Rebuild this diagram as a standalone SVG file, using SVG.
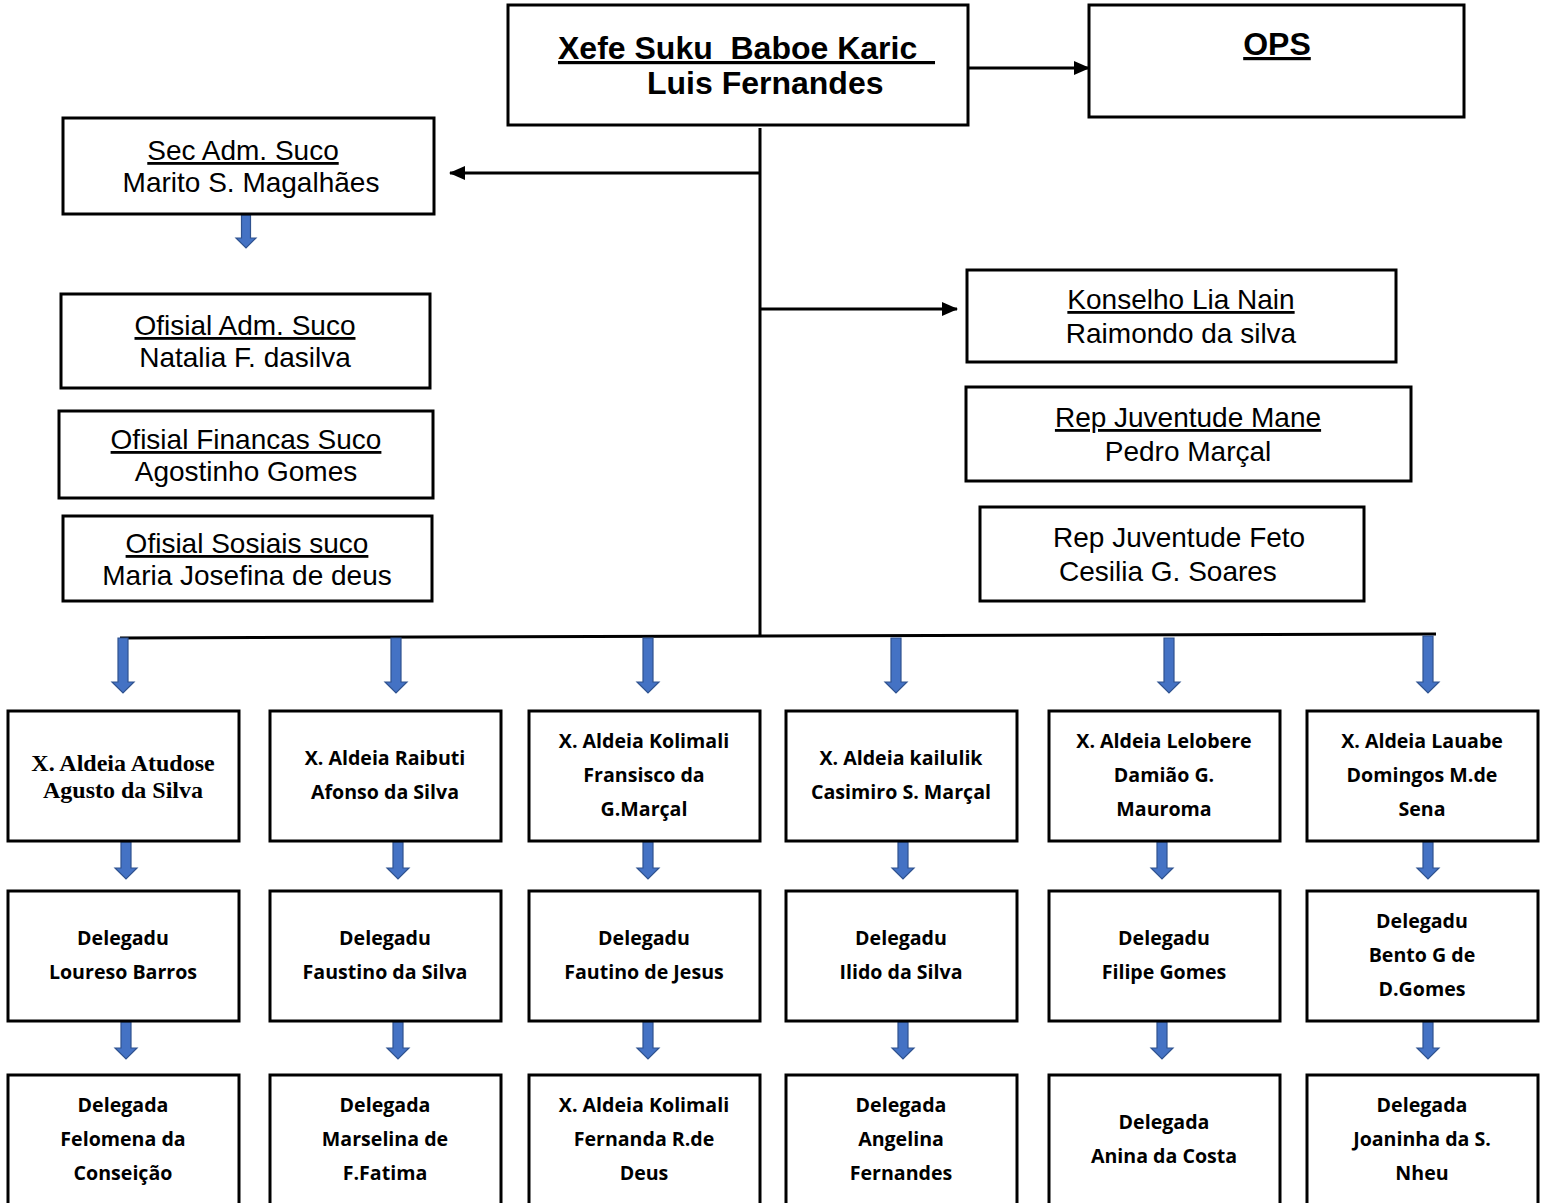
<svg xmlns="http://www.w3.org/2000/svg" width="1546" height="1203" viewBox="0 0 1546 1203">
<defs>
<marker id="ah" markerWidth="16" markerHeight="14" refX="15" refY="7" orient="auto" markerUnits="userSpaceOnUse">
<path d="M0,0 L16,7 L0,14 Z" fill="#000"/>
</marker>
<style>
.box{fill:#fff;stroke:#000;stroke-width:3}
.line{stroke:#000;stroke-width:3;fill:none}
.blue{fill:#4472C4;stroke:#2F528F;stroke-width:1.2}
.hd{font-family:"Liberation Sans",Arial,sans-serif;font-weight:bold;font-size:32px;fill:#000}
.md{font-family:"Liberation Sans",Arial,sans-serif;font-size:28px;fill:#000}
.c{text-anchor:middle}
.u{text-decoration:underline}
.bt{font-family:"Open Sans",Lato,sans-serif;font-weight:bold;font-size:19.6px;fill:#000;text-anchor:middle}
.tm{font-family:"Liberation Serif","Times New Roman",serif;font-weight:bold;font-size:24px;fill:#000;text-anchor:middle}
</style>
</defs>
<rect width="1546" height="1203" fill="#fff"/>

<g id="connectors">
<line class="line" x1="968" y1="68" x2="1089" y2="68" marker-end="url(#ah)"/>
<line class="line" x1="760" y1="128" x2="760" y2="637"/>
<line class="line" x1="760" y1="173" x2="450" y2="173" marker-end="url(#ah)"/>
<line class="line" x1="760" y1="309" x2="957" y2="309" marker-end="url(#ah)"/>
<line class="line" x1="120" y1="638" x2="1436" y2="634"/>
<path class="blue" d="M241.5,215 L250.5,215 L250.5,238 L256,238 L246,248 L236,238 L241.5,238 Z"/>
<path class="blue" d="M118,638 L128,638 L128,682 L134,682 L123,693 L112,682 L118,682 Z"/>
<path class="blue" d="M391,638 L401,638 L401,682 L407,682 L396,693 L385,682 L391,682 Z"/>
<path class="blue" d="M643,638 L653,638 L653,682 L659,682 L648,693 L637,682 L643,682 Z"/>
<path class="blue" d="M891,638 L901,638 L901,682 L907,682 L896,693 L885,682 L891,682 Z"/>
<path class="blue" d="M1164,638 L1174,638 L1174,682 L1180,682 L1169,693 L1158,682 L1164,682 Z"/>
<path class="blue" d="M1423,636 L1433,636 L1433,682 L1439,682 L1428,693 L1417,682 L1423,682 Z"/>
<path class="blue" d="M121,842 L131,842 L131,868 L137,868 L126,879 L115,868 L121,868 Z"/>
<path class="blue" d="M393,842 L403,842 L403,868 L409,868 L398,879 L387,868 L393,868 Z"/>
<path class="blue" d="M643,842 L653,842 L653,868 L659,868 L648,879 L637,868 L643,868 Z"/>
<path class="blue" d="M898,842 L908,842 L908,868 L914,868 L903,879 L892,868 L898,868 Z"/>
<path class="blue" d="M1157,842 L1167,842 L1167,868 L1173,868 L1162,879 L1151,868 L1157,868 Z"/>
<path class="blue" d="M1423,842 L1433,842 L1433,868 L1439,868 L1428,879 L1417,868 L1423,868 Z"/>
<path class="blue" d="M121,1022 L131,1022 L131,1048 L137,1048 L126,1059 L115,1048 L121,1048 Z"/>
<path class="blue" d="M393,1022 L403,1022 L403,1048 L409,1048 L398,1059 L387,1048 L393,1048 Z"/>
<path class="blue" d="M643,1022 L653,1022 L653,1048 L659,1048 L648,1059 L637,1048 L643,1048 Z"/>
<path class="blue" d="M898,1022 L908,1022 L908,1048 L914,1048 L903,1059 L892,1048 L898,1048 Z"/>
<path class="blue" d="M1157,1022 L1167,1022 L1167,1048 L1173,1048 L1162,1059 L1151,1048 L1157,1048 Z"/>
<path class="blue" d="M1423,1022 L1433,1022 L1433,1048 L1439,1048 L1428,1059 L1417,1048 L1423,1048 Z"/>
</g>

<g id="xefe">
<rect class="box" x="508" y="5" width="460" height="120"/>
<text class="hd u" x="558" y="59" xml:space="preserve">Xefe Suku  Baboe Karic  </text>
<text class="hd" x="647" y="94">Luis Fernandes</text>
</g>
<g id="ops">
<rect class="box" x="1089" y="5" width="375" height="112"/>
<text class="hd u c" x="1277" y="55">OPS</text>
</g>
<g id="sec">
<rect class="box" x="63" y="118" width="371" height="96"/>
<text class="md u c" x="243" y="160">Sec Adm. Suco</text>
<text class="md c" x="251" y="192">Marito S. Magalhães</text>
</g>
<g id="ofisial-adm">
<rect class="box" x="61" y="294" width="369" height="94"/>
<text class="md u c" x="245" y="335">Ofisial Adm. Suco</text>
<text class="md c" x="245" y="367">Natalia F. dasilva</text>
</g>
<g id="ofisial-fin">
<rect class="box" x="59" y="411" width="374" height="87"/>
<text class="md u c" x="246" y="449">Ofisial Financas Suco</text>
<text class="md c" x="246" y="481">Agostinho Gomes</text>
</g>
<g id="ofisial-sos">
<rect class="box" x="63" y="516" width="369" height="85"/>
<text class="md u c" x="247" y="553">Ofisial Sosiais suco</text>
<text class="md c" x="247" y="585">Maria Josefina de deus</text>
</g>
<g id="konselho">
<rect class="box" x="967" y="270" width="429" height="92"/>
<text class="md u c" x="1181" y="309">Konselho Lia Nain</text>
<text class="md c" x="1181" y="343">Raimondo da silva</text>
</g>
<g id="rep-mane">
<rect class="box" x="966" y="387" width="445" height="94"/>
<text class="md u c" x="1188" y="427">Rep Juventude Mane</text>
<text class="md c" x="1188" y="461">Pedro Marçal</text>
</g>
<g id="rep-feto">
<rect class="box" x="980" y="507" width="384" height="94"/>
<text class="md" x="1053" y="547">Rep Juventude Feto</text>
<text class="md" x="1059" y="581">Cesilia G. Soares</text>
</g>

<g id="aldeia-atudose">
<rect class="box" x="8" y="711" width="231" height="130"/>
<text class="tm" x="123" y="771">X. Aldeia Atudose</text>
<text class="tm" x="123" y="798">Agusto da Silva</text>
</g>
<g id="aldeia-raibuti">
<rect class="box" x="270" y="711" width="231" height="130"/>
<text class="bt" x="385" y="765">X. Aldeia Raibuti</text>
<text class="bt" x="385" y="799">Afonso da Silva</text>
</g>
<g id="aldeia-kolimali">
<rect class="box" x="529" y="711" width="231" height="130"/>
<text class="bt" x="644" y="748">X. Aldeia Kolimali</text>
<text class="bt" x="644" y="782">Fransisco da</text>
<text class="bt" x="644" y="816">G.Marçal</text>
</g>
<g id="aldeia-kailulik">
<rect class="box" x="786" y="711" width="231" height="130"/>
<text class="bt" x="901" y="765">X. Aldeia kailulik</text>
<text class="bt" x="901" y="799">Casimiro S. Marçal</text>
</g>
<g id="aldeia-lelobere">
<rect class="box" x="1049" y="711" width="231" height="130"/>
<text class="bt" x="1164" y="748">X. Aldeia Lelobere</text>
<text class="bt" x="1164" y="782">Damião G.</text>
<text class="bt" x="1164" y="816">Mauroma</text>
</g>
<g id="aldeia-lauabe">
<rect class="box" x="1307" y="711" width="231" height="130"/>
<text class="bt" x="1422" y="748">X. Aldeia Lauabe</text>
<text class="bt" x="1422" y="782">Domingos M.de</text>
<text class="bt" x="1422" y="816">Sena</text>
</g>

<g id="delegadu-1">
<rect class="box" x="8" y="891" width="231" height="130"/>
<text class="bt" x="123" y="945">Delegadu</text>
<text class="bt" x="123" y="979">Loureso Barros</text>
</g>
<g id="delegadu-2">
<rect class="box" x="270" y="891" width="231" height="130"/>
<text class="bt" x="385" y="945">Delegadu</text>
<text class="bt" x="385" y="979">Faustino da Silva</text>
</g>
<g id="delegadu-3">
<rect class="box" x="529" y="891" width="231" height="130"/>
<text class="bt" x="644" y="945">Delegadu</text>
<text class="bt" x="644" y="979">Fautino de Jesus</text>
</g>
<g id="delegadu-4">
<rect class="box" x="786" y="891" width="231" height="130"/>
<text class="bt" x="901" y="945">Delegadu</text>
<text class="bt" x="901" y="979">Ilido da Silva</text>
</g>
<g id="delegadu-5">
<rect class="box" x="1049" y="891" width="231" height="130"/>
<text class="bt" x="1164" y="945">Delegadu</text>
<text class="bt" x="1164" y="979">Filipe Gomes</text>
</g>
<g id="delegadu-6">
<rect class="box" x="1307" y="891" width="231" height="130"/>
<text class="bt" x="1422" y="928">Delegadu</text>
<text class="bt" x="1422" y="962">Bento G de</text>
<text class="bt" x="1422" y="996">D.Gomes</text>
</g>

<g id="delegada-1">
<rect class="box" x="8" y="1075" width="231" height="140"/>
<text class="bt" x="123" y="1112">Delegada</text>
<text class="bt" x="123" y="1146">Felomena da</text>
<text class="bt" x="123" y="1180">Conseição</text>
</g>
<g id="delegada-2">
<rect class="box" x="270" y="1075" width="231" height="140"/>
<text class="bt" x="385" y="1112">Delegada</text>
<text class="bt" x="385" y="1146">Marselina de</text>
<text class="bt" x="385" y="1180">F.Fatima</text>
</g>
<g id="delegada-3">
<rect class="box" x="529" y="1075" width="231" height="140"/>
<text class="bt" x="644" y="1112">X. Aldeia Kolimali</text>
<text class="bt" x="644" y="1146">Fernanda R.de</text>
<text class="bt" x="644" y="1180">Deus</text>
</g>
<g id="delegada-4">
<rect class="box" x="786" y="1075" width="231" height="140"/>
<text class="bt" x="901" y="1112">Delegada</text>
<text class="bt" x="901" y="1146">Angelina</text>
<text class="bt" x="901" y="1180">Fernandes</text>
</g>
<g id="delegada-5">
<rect class="box" x="1049" y="1075" width="231" height="140"/>
<text class="bt" x="1164" y="1129">Delegada</text>
<text class="bt" x="1164" y="1163">Anina da Costa</text>
</g>
<g id="delegada-6">
<rect class="box" x="1307" y="1075" width="231" height="140"/>
<text class="bt" x="1422" y="1112">Delegada</text>
<text class="bt" x="1422" y="1146">Joaninha da S.</text>
<text class="bt" x="1422" y="1180">Nheu</text>
</g>
</svg>
